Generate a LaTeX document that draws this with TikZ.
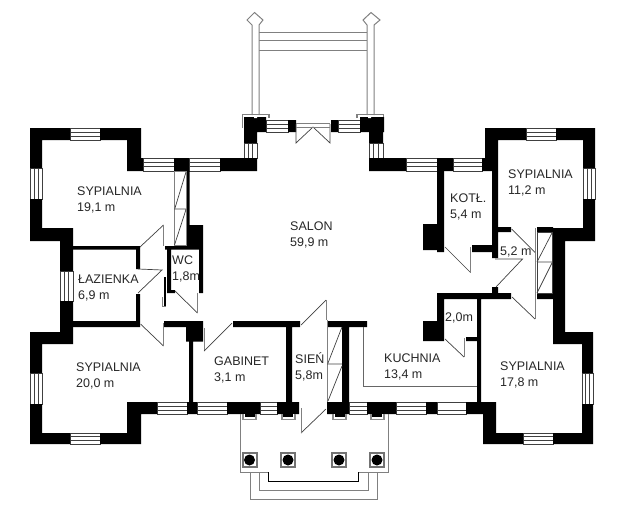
\documentclass[tikz,border=0pt]{standalone}
\usepackage{fontspec}
\setmainfont{Liberation Sans}
\usetikzlibrary{positioning}

\tikzset{
  wall/.style={fill=black},
  thinline/.style={draw=black!75,line width=0.7pt},
  greyline/.style={draw=black!50,line width=1pt},
  room/.style={anchor=west,align=left,inner sep=0pt,text=black!85,font=\fontsize{12.5}{16}\selectfont},
}
% windows: left, top, right, bottom
\newcommand{\hwin}[4]{
  \draw[thinline] (#1,#2) rectangle (#3,#4);
  \draw[thinline] (#1,#2+0.34*#4-0.34*#2) -- (#3,#2+0.34*#4-0.34*#2);
  \draw[thinline] (#1,#2+0.66*#4-0.66*#2) -- (#3,#2+0.66*#4-0.66*#2);
}
\newcommand{\vwin}[4]{
  \draw[thinline] (#1,#2) rectangle (#3,#4);
  \draw[thinline] (#1+0.34*#3-0.34*#1,#2) -- (#1+0.34*#3-0.34*#1,#4);
  \draw[thinline] (#1+0.66*#3-0.66*#1,#2) -- (#1+0.66*#3-0.66*#1,#4);
}

\begin{document}
\begin{tikzpicture}[x=1pt,y=-1pt]
\useasboundingbox (0,0) rectangle (626,527);

% windows
\hwin{70}{128}{100}{140}
\vwin{30}{168}{42}{199}
\hwin{143}{158}{174}{171}
\hwin{189}{158}{220}{171}
\vwin{244}{143}{257}{158}
\hwin{266}{120}{288}{132}
\hwin{338}{120}{360}{132}
\vwin{369}{143}{383}{158}
\hwin{406}{158}{437}{171}
\hwin{453}{158}{482}{171}
\hwin{526}{128}{556}{140}
\vwin{583}{168}{595}{199}
\vwin{60}{271}{73}{301}
\vwin{30}{373}{42}{404}
\hwin{70}{433}{100}{444}
\hwin{157}{402}{187}{414}
\hwin{197}{402}{227}{414}
\hwin{260}{402}{277}{414}
\hwin{349}{402}{367}{414}
\hwin{396}{402}{426}{414}
\draw[thinline] (437,402) rectangle (466,414) (437,410) -- (466,410);
\vwin{582}{373}{593}{404}
\hwin{523}{433}{553}{444}

% terrace at the back
\draw[greyline,fill=white] (252,115) -- (252,25) -- (247,20) -- (254.5,12.5) -- (263,20) -- (259,25) -- (259,115);
\draw[greyline,fill=white] (367,115) -- (367,25) -- (363,20) -- (371,12.5) -- (380,20) -- (374,25) -- (374,115);
\draw[greyline] (259,33) -- (367,33);
\draw[greyline] (259,41) -- (367,41);
\draw[greyline] (259,51) -- (367,51);
\draw[greyline,line width=1.4pt] (242.5,128) -- (242.5,114.5) -- (269,114.5) -- (269,118);
\draw[greyline,line width=1.4pt] (357,118) -- (357,114.5) -- (383.5,114.5) -- (383.5,128);

% outer walls
\fill[wall] (30,128) rectangle (70,140) (100,128) rectangle (141,140)
  (127,128) rectangle (141,171) (30,128) rectangle (42,168) (30,199) rectangle (42,241)
  (30,228) rectangle (73,241) (60,228) rectangle (73,271) (60,301) rectangle (73,344)
  (30,332) rectangle (73,344) (30,332) rectangle (42,373) (30,404) rectangle (42,444)
  (30,433) rectangle (70,444) (100,433) rectangle (141,444) (127,402) rectangle (141,444)
  (127,402) rectangle (157,414) (187,402) rectangle (197,414) (227,402) rectangle (260,414)
  (277,402) rectangle (299,414) (327,402) rectangle (349,414) (367,402) rectangle (396,414)
  (426,402) rectangle (437,414) (466,402) rectangle (496,414) (483,402) rectangle (496,444)
  (483,433) rectangle (523,444) (553,433) rectangle (593,444) (582,404) rectangle (593,444)
  (582,332) rectangle (593,373) (553,332) rectangle (593,344) (553,228) rectangle (565,344)
  (553,228) rectangle (595,241) (583,199) rectangle (595,241) (583,128) rectangle (595,168)
  (556,128) rectangle (595,140) (485,128) rectangle (526,140) (485,128) rectangle (498,171)
  (482,158) rectangle (498,171) (437,158) rectangle (453,171) (369,158) rectangle (406,171)
  (369,117) rectangle (383,143) (360,117) rectangle (384,132) (331,120) rectangle (338,132)
  (288,120) rectangle (296,132) (244,117) rectangle (266,132) (244,117) rectangle (257,143)
  (220,158) rectangle (257,171) (174,158) rectangle (189,171) (141,158) rectangle (143,171);

% inner walls
\fill[wall] (186,171) rectangle (189.5,225) (186,225) rectangle (203,246)
  (165,246) rectangle (203,249.5) (167,246) rectangle (171,293) (167,290) rectangle (175,293)
  (199,246) rectangle (203,293) (73,246) rectangle (140,249.5) (136,246) rectangle (140,269)
  (136,294) rectangle (140,327) (73,321) rectangle (140,327) (164,321) rectangle (203,327)
  (186,321) rectangle (203,341.5) (189,341) rectangle (193,402) (233,321) rectangle (300,327)
  (286,327) rectangle (292,402) (327,321) rectangle (367,327) (342,327) rectangle (349,402)
  (477,293) rectangle (481,402) (437,293) rectangle (511,299) (437,293) rectangle (444,340)
  (423,321) rectangle (444,341) (492,287) rectangle (498,293) (466,337) rectangle (477,341)
  (437,171) rectangle (444,252) (423,224) rectangle (438,250) (472,245) rectangle (492,252)
  (492,171) rectangle (498,258) (498,227) rectangle (511,232) (537,227) rectangle (553,232)
  (537,293) rectangle (553,299);

% white notches in the pillars
\fill[white] (254,115) rectangle (257,118) (368,115) rectangle (371,118);

% doors
\draw[thinline] (296,124) -- (296,143) -- (313,127) -- (330,143) -- (330,124);
\draw[greyline] (296,123.5) -- (330,123.5) (296,127) -- (330,127);
\draw[thinline] (140,247) -- (163.5,225);
\draw[greyline] (163.5,225) -- (163.5,246);
\draw[thinline] (138,269) -- (162,270) -- (138,293);
\draw[thinline] (175,291) -- (197.5,313);
\draw[greyline] (197.5,313) -- (197.5,293);
\draw[thinline] (140.5,324) -- (163.5,346);
\draw[greyline] (163.5,346) -- (163.5,323);
\draw[greyline] (204,328) -- (204,351);
\draw[thinline] (204,351) -- (232,323);
\draw[thinline] (301,325) -- (326,300);
\draw[greyline] (326,300) -- (326,320);
\draw[thinline] (301,433) -- (326,409);
\draw[greyline] (301,433) -- (301,408);
\draw[thinline] (445,339) -- (464,357);
\draw[greyline] (464,357) -- (464,338);
\draw[thinline] (445,247) -- (470.5,272.5);
\draw[greyline] (470.5,272.5) -- (470.5,247);
\draw[thinline] (511.5,229) -- (535,252.5);
\draw[thinline] (495,259) -- (522.5,259) -- (496,287);
\draw[thinline] (512,297) -- (535,319);
\draw[greyline] (535,228) -- (535,319);

% small fitting next to the WC
\draw[black,line width=1.2pt] (165,277) -- (165,306);
\draw[greyline] (162,297) -- (162,306) -- (166,306);

% wardrobes
\draw[greyline] (174,171) rectangle (186,245.5);
\draw[thinline] (174,209) -- (186,209) (175,208) -- (186,172) (174.5,245) -- (186,209.5);
\draw[greyline] (327,320) -- (327,402);
\draw[thinline] (327,364) -- (342,364) (328,363) -- (342,327) (328,401) -- (342,366);
\draw[thinline] (537,232) rectangle (552,293);
\draw[thinline] (537,262) -- (552,262) (537,262) -- (552,233) (537,293) -- (552,263);

% kitchen edge
\draw[thinline,draw=black!60] (363.5,327) -- (363.5,386.5) -- (477,386.5);

% entrance
\draw[greyline] (240,414) -- (240,472) -- (268,472);
\draw[greyline] (388,414) -- (388,472) -- (358,472);
\draw[thinline,draw=black] (268,472) -- (268,481.5) -- (358,481.5) -- (358,472);
\draw[greyline] (259,472) -- (259,490) -- (368,490) -- (368,472);
\draw[greyline] (250,472) -- (250,499) -- (377,499) -- (377,472);
\foreach \px in {249.5,288,339,377}{
  \draw[draw=black!55,line width=2pt,fill=white] (\px-7,453) rectangle (\px+7,467);
  \fill[black] (\px,460) circle (5.5);
}
\foreach \px in {249.5,288,339.5,377}{
  \fill[black!45] (\px-7.5,414) rectangle (\px+7.5,420);
  \fill[white] (\px-5.5,414) rectangle (\px+5.5,418.5);
  \fill[black] (\px-5,414) rectangle (\px+5,417);
}

% room names
\node[room] (bedNW) at (77,199.5) {SYPIALNIA\\19,1 m};
\node[room] (salon) at (290,234.5) {SALON\\59,9 m};
\node[room] (bedNE) at (508,182.5) {SYPIALNIA\\11,2 m};
\node[room] (boiler) at (450,206.5) {KOTŁ.\\5,4 m};
\node[room] (hallB) at (500,252) {5,2 m};
\node[room] (bath) at (78,287.5) {ŁAZIENKA\\6,9 m};
\node[room] (wc) at (172,268.5) {WC\\1,8m};
\node[room] (bedSW) at (76,376) {SYPIALNIA\\20,0 m};
\node[room] (study) at (214,370) {GABINET\\3,1 m};
\node[room] (hallA) at (295,366.5) {SIEŃ\\5,8m};
\node[room] (kitchen) at (384,367) {KUCHNIA\\13,4 m};
\node[room] (pantry) at (445,318) {2,0m};
\node[room] (bedSE) at (500,375) {SYPIALNIA\\17,8 m};
\end{tikzpicture}
\end{document}
